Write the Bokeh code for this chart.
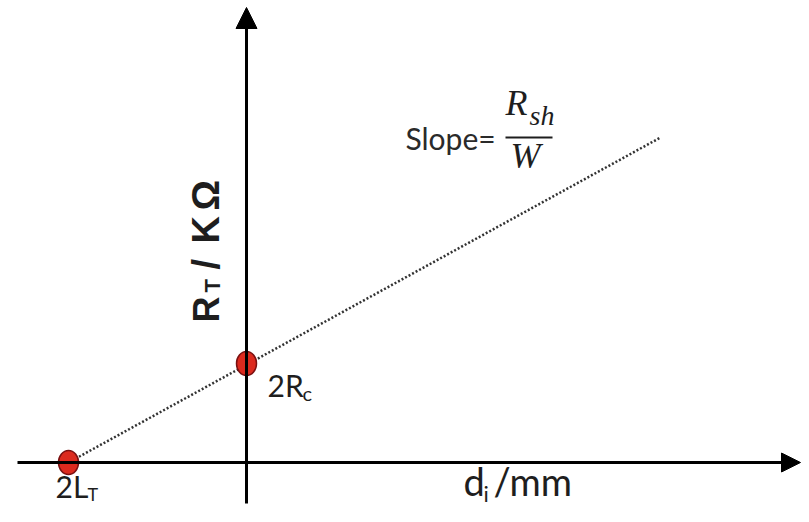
import math
from bokeh.plotting import figure
from bokeh.models import Range1d, Arrow, NormalHead, Label
from bokeh.embed import file_html
from bokeh.resources import INLINE

# ---- data (arbitrary units: 1 unit = 100 px of the reference) ----
point_x = [-1.78, 0.0]          # 2L_T (x-intercept), 2R_c (y-intercept)
point_y = [0.0, 0.99]
fit_x = [-1.78, 4.14]           # dotted linear fit
fit_y = [0.0, 3.25]
x_axis_span = [-2.29, 5.54]     # horizontal axis arrow (start, tip)
y_axis_span = [-0.41, 4.55]     # vertical axis arrow (start, tip)

SANS = "Lato"
SERIF = "Liberation Serif"
BOLD = "Liberation Sans"
TXT = "#1e1e1e"

p = figure(width=801, height=506,
           x_range=Range1d(-2.46, 5.55), y_range=Range1d(-0.44, 4.62),
           x_axis_type=None, y_axis_type=None,
           output_backend="svg", toolbar_location=None, min_border=0)
p.grid.visible = False
p.outline_line_color = None
p.background_fill_color = "white"
p.border_fill_color = "white"

# axes as arrows
p.add_layout(Arrow(end=NormalHead(size=19, fill_color="black", line_color="black", line_width=1),
                   x_start=x_axis_span[0], y_start=0, x_end=x_axis_span[1], y_end=0,
                   line_width=3, line_color="black"))
p.add_layout(Arrow(end=NormalHead(size=21, fill_color="black", line_color="black", line_width=1),
                   x_start=0, y_start=y_axis_span[0], x_end=0, y_end=y_axis_span[1],
                   line_width=3, line_color="black"))

# dotted fit line
p.line(fit_x, fit_y, line_dash="2 2", line_width=2.5, line_color="#333333")

# points
p.ellipse(x=point_x, y=point_y, width=0.2, height=0.24,
          fill_color="#dc2a1e", line_color="#7a1010", line_width=1.5)

def lab(x, y, text, size, font=SANS, style="normal", angle=0.0, color=TXT):
    p.add_layout(Label(x=x, y=y, text=text, text_font=font, text_font_size=f"{size}px",
                       text_font_style=style, text_color=color, angle=angle,
                       text_align="left", text_baseline="alphabetic"))

# slope annotation
lab(1.59, 3.25, "Slope=", 30, color="#2a2a2a")
lab(2.59, 3.60, "R", 36, font=SERIF, style="italic")
lab(2.83, 3.47, "sh", 28, font=SERIF, style="italic")
p.segment(x0=[2.59], y0=[3.25], x1=[3.06], y1=[3.25], line_width=2, line_color=TXT)
lab(2.64, 3.07, "W", 36, font=SERIF, style="italic")

# point labels
lab(0.21, 0.78, "2R", 30)
lab(0.56, 0.70, "c", 20)
lab(-1.91, -0.23, "2L", 30)
lab(-1.59, -0.31, "T", 18)

# x-axis label
lab(2.17, -0.18, "d", 38)
lab(2.37, -0.31, "i", 22)
lab(2.47, -0.18, "/mm", 38)

# y-axis label (rotated)
a = math.pi / 2
lab(-0.40, 1.40, "R", 36, font=BOLD, style="bold", angle=a)
lab(-0.34, 1.70, "T", 22, font=BOLD, style="bold", angle=a)
lab(-0.41, 1.93, "/", 38, font=BOLD, style="bold", angle=a)
lab(-0.41, 2.19, "K", 38, font=BOLD, style="bold", angle=a)
lab(-0.41, 2.52, "Ω", 38, font=BOLD, style="bold", angle=a)

open("out.html", "w").write(file_html(p, INLINE))
